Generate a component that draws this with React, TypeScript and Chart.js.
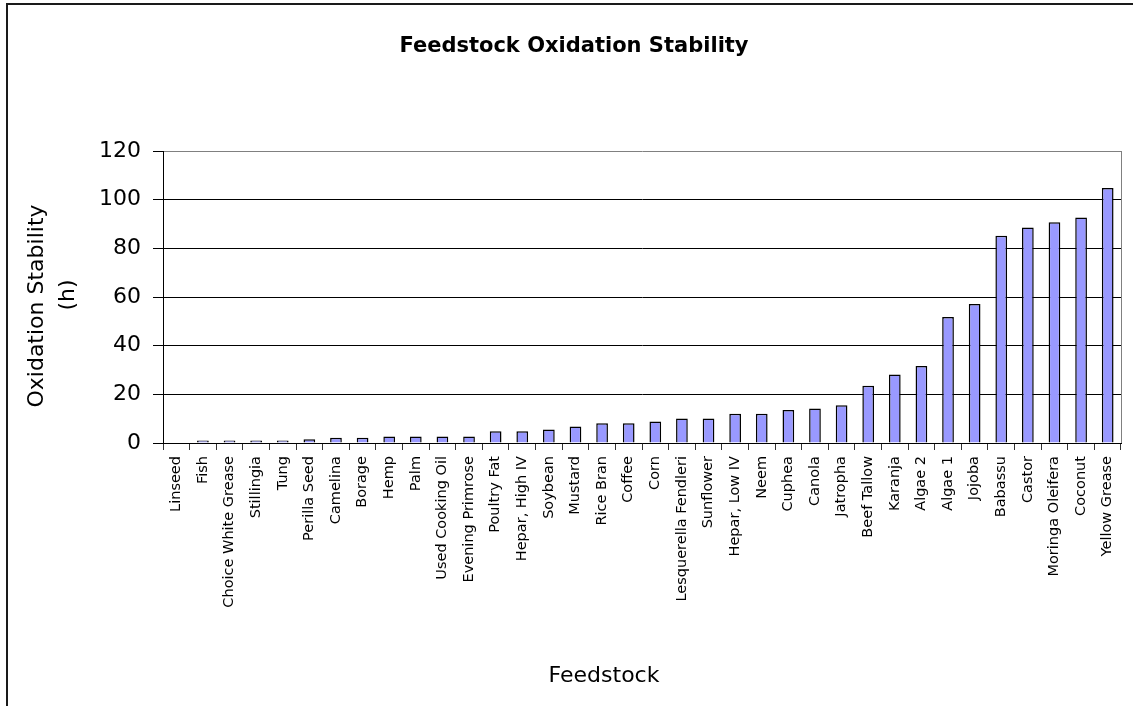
import React, { useEffect, useRef } from "react";
import { Chart, registerables } from "chart.js";

Chart.register(...registerables);

const categories: string[] = [
  "Linseed", "Fish", "Choice White Grease", "Stillingia", "Tung", "Perilla Seed",
  "Camelina", "Borage", "Hemp", "Palm", "Used Cooking Oil", "Evening Primrose",
  "Poultry Fat", "Hepar, High IV", "Soybean", "Mustard", "Rice Bran", "Coffee",
  "Corn", "Lesquerella Fendleri", "Sunflower", "Hepar, Low IV", "Neem", "Cuphea",
  "Canola", "Jatropha", "Beef Tallow", "Karanja", "Algae 2", "Algae 1", "Jojoba",
  "Babassu", "Castor", "Moringa Oleifera", "Coconut", "Yellow Grease",
];

const stabilityHours: number[] = [
  0, 1.0, 1.0, 1.0, 1.0, 1.5,
  2.2, 2.2, 2.7, 2.7, 2.7, 2.7,
  4.8, 4.8, 5.5, 6.8, 8.1, 8.1,
  8.8, 10.1, 10.1, 12.0, 12.0, 13.6,
  14.2, 15.5, 23.5, 28.2, 31.6, 51.8, 57.1,
  85.2, 88.6, 90.7, 92.7, 104.8,
];

const chartTitle = "Feedstock Oxidation Stability";
const xAxisTitle = "Feedstock";
const yAxisTitleLines: string[] = ["Oxidation Stability", "(h)"];
const yTicks: number[] = [0, 20, 40, 60, 80, 100, 120];

const FONT = "'DejaVu Sans', Arial, sans-serif";

const decorPlugin = {
  id: "decor",
  beforeDraw(chart: any) {
    const ctx = chart.ctx;
    ctx.save();
    ctx.fillStyle = "#ffffff";
    ctx.fillRect(0, 0, chart.width, chart.height);
    ctx.strokeStyle = "#1a1a1a";
    ctx.lineWidth = 2;
    ctx.beginPath();
    ctx.moveTo(7, chart.height + 5);
    ctx.lineTo(7, 4);
    ctx.lineTo(chart.width + 5, 4);
    ctx.stroke();
    ctx.restore();
  },
  afterDraw(chart: any) {
    const ctx = chart.ctx;
    const a = chart.chartArea;
    ctx.save();
    ctx.strokeStyle = "#808080";
    ctx.lineWidth = 1;
    ctx.beginPath();
    ctx.moveTo(Math.round(a.right) + 0.5, a.top);
    ctx.lineTo(Math.round(a.right) + 0.5, a.bottom);
    ctx.stroke();

    ctx.fillStyle = "#000000";
    ctx.font = `bold 21px ${FONT}`;
    ctx.textAlign = "center";
    ctx.textBaseline = "alphabetic";
    ctx.fillText(chartTitle, 574, 52);

    ctx.font = `22px ${FONT}`;
    ctx.fillText(xAxisTitle, 604, 682);

    ctx.font = `22px ${FONT}`;
    const centers = [306, 295];
    const baselines = [43, 74];
    yAxisTitleLines.forEach((line, i) => {
      ctx.save();
      ctx.translate(baselines[i], centers[i]);
      ctx.rotate(-Math.PI / 2);
      ctx.textAlign = "center";
      ctx.textBaseline = "alphabetic";
      ctx.fillText(line, 0, 0);
      ctx.restore();
    });
    ctx.restore();
  },
};

export default function App() {
  const canvasRef = useRef<HTMLCanvasElement | null>(null);

  useEffect(() => {
    if (!canvasRef.current) return;
    const chart = new Chart(canvasRef.current, {
      type: "bar",
      data: {
        labels: categories,
        datasets: [
          {
            label: "Oxidation Stability (h)",
            data: stabilityHours,
            backgroundColor: "#9999FF",
            borderColor: "#000000",
            borderWidth: 1.5,
            barPercentage: 0.44,
            categoryPercentage: 1,
          },
        ],
      },
      options: {
        animation: false,
        responsive: false,
        maintainAspectRatio: false,
        layout: { padding: { left: 7, top: 151, right: 12, bottom: 0 } },
        plugins: {
          legend: { display: false },
          tooltip: { enabled: false },
          title: { display: false },
        },
        scales: {
          x: {
            offset: true,
            afterFit: (scale: any) => {
              scale.height = 263;
            },
            grid: {
              display: true,
              drawOnChartArea: false,
              drawTicks: true,
              tickLength: 7,
              offset: true,
              tickColor: "#333333",
            },
            border: { display: true, color: "#000000", width: 1 },
            ticks: {
              autoSkip: false,
              maxRotation: 90,
              minRotation: 90,
              padding: 6,
              color: "#000000",
              font: { family: FONT, size: 14.5 },
            },
          },
          y: {
            min: 0,
            max: 120,
            afterFit: (scale: any) => {
              scale.width = 156;
            },
            afterBuildTicks: (scale: any) => {
              scale.ticks = yTicks.map((v) => ({ value: v }));
            },
            grid: {
              color: (c: any) => (c.tick && c.tick.value === 120 ? "#808080" : "#000000"),
              lineWidth: 1,
              tickLength: 10,
              tickColor: "#000000",
            },
            border: { display: true, color: "#000000", width: 1 },
            ticks: {
              padding: 12,
              color: "#000000",
              font: { family: FONT, size: 22 },
            },
          },
        },
      },
      plugins: [decorPlugin],
    });
    return () => chart.destroy();
  }, []);

  return (
    <div style={{ position: "fixed", left: 0, top: 0, width: 1133, height: 706, overflow: "hidden", background: "#fff" }}>
      <canvas ref={canvasRef} width={1133} height={706} style={{ display: "block" }} />
    </div>
  );
}
